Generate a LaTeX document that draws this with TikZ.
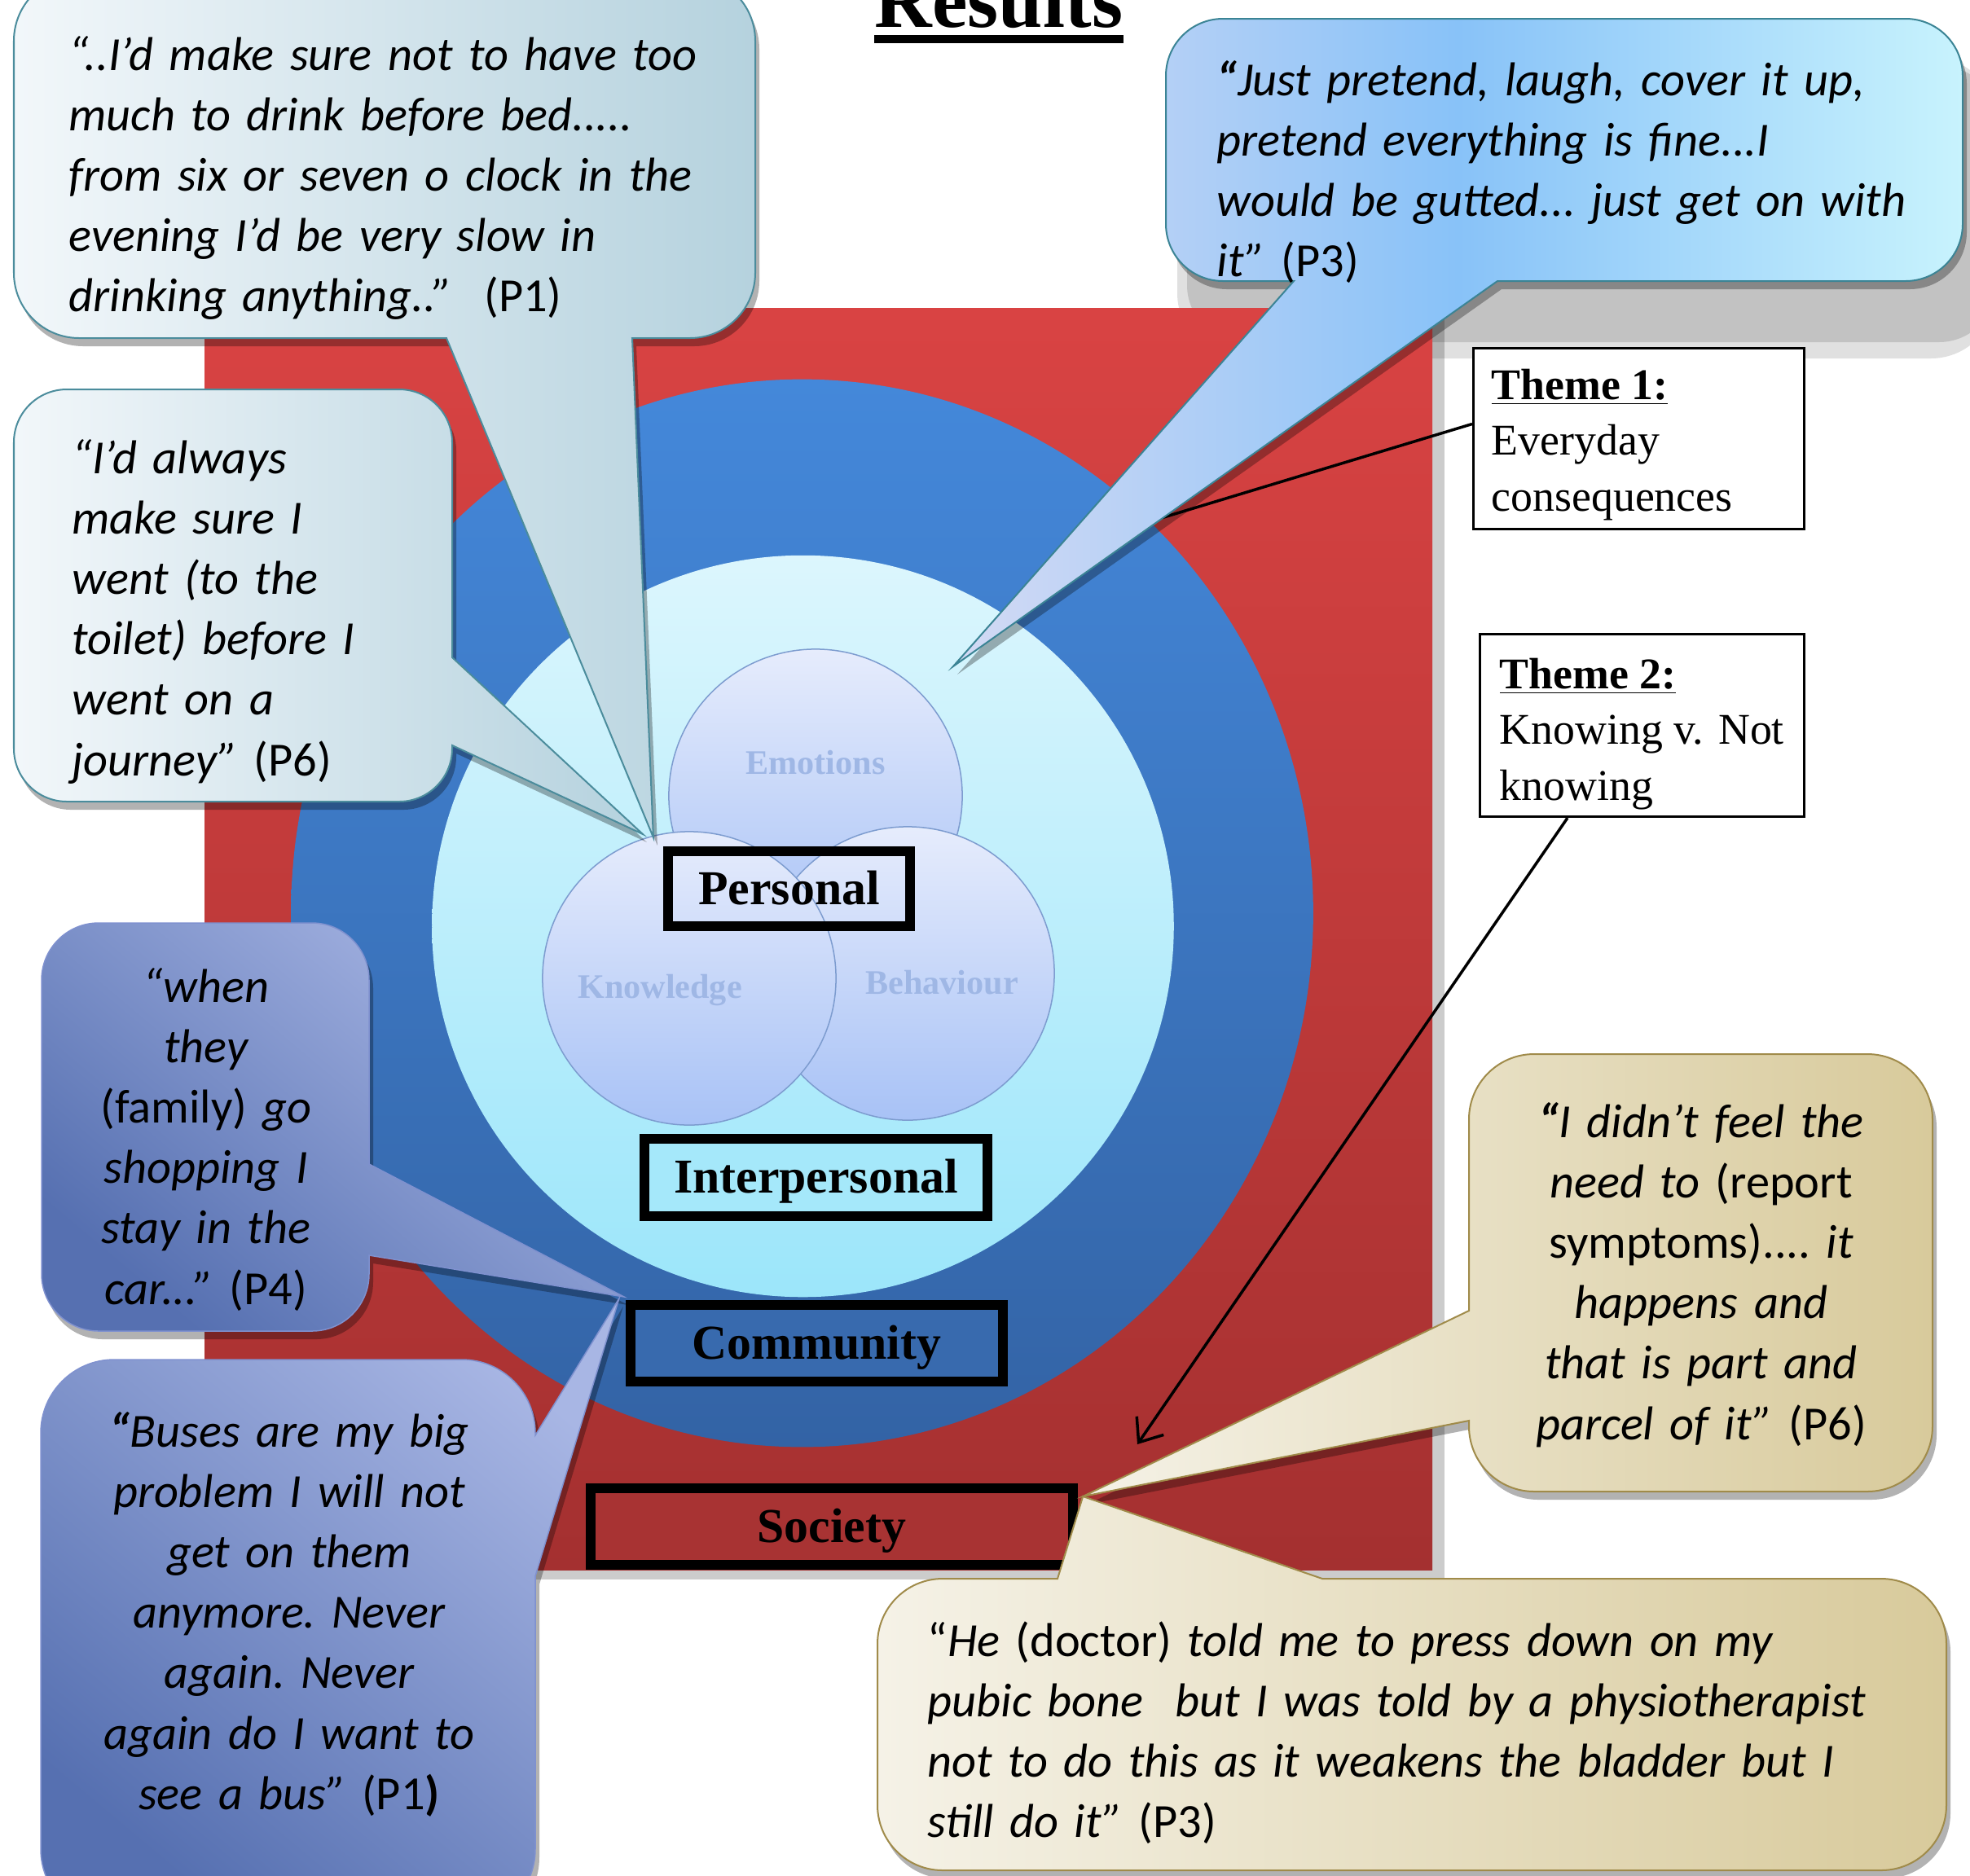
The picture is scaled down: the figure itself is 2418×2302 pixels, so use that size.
\documentclass[tikz,border=0pt]{standalone}
\usepackage{fontspec}
\setmainfont{Liberation Serif}
\newfontfamily\carlito{Carlito}
\usetikzlibrary{arrows.meta,shadows,calc}
\definecolor{redtop}{HTML}{D94343}
\definecolor{redbot}{HTML}{A43030}
\definecolor{bluetop}{HTML}{4488DA}
\definecolor{bluebot}{HTML}{3363A5}
\definecolor{cyantop}{HTML}{DCF6FD}
\definecolor{cyanbot}{HTML}{9CE6FA}
\definecolor{venntop}{HTML}{E6ECFC}
\definecolor{vennbot}{HTML}{A8C2F6}
\definecolor{vennedge}{HTML}{7D9CCF}
\definecolor{vlab}{HTML}{9FB7E5}
\definecolor{interfill}{HTML}{A5E8FA}
\definecolor{commfill}{HTML}{386AAE}
\definecolor{socfill}{HTML}{A83333}
\definecolor{lbL}{HTML}{F2F7FA}
\definecolor{lbR}{HTML}{B5D2DE}
\definecolor{lbEdge}{HTML}{4B8C9C}
\definecolor{skyL}{HTML}{D4DAF4}
\definecolor{skyM}{HTML}{88C2F8}
\definecolor{skyR}{HTML}{C8F3FD}
\definecolor{skyEdge}{HTML}{3B8495}
\definecolor{gemDark}{HTML}{5670B1}
\definecolor{gemLight}{HTML}{A8B6E4}
\definecolor{gemEdge}{HTML}{7F91CF}
\definecolor{tanL}{HTML}{F5F2E7}
\definecolor{tanR}{HTML}{D8CA9B}
\definecolor{tanEdge}{HTML}{A08B4A}
\tikzset{
  bshadow/.style={drop shadow={shadow xshift=0.05cm,shadow yshift=-0.10cm,opacity=0.3,fill=black}},
  qtext/.style={inner sep=0pt, font=\carlito\fontsize{16.6}{21.06}\selectfont\itshape\frenchspacing},
  lvlbox/.style={draw=black, line width=0.12cm, inner sep=0pt, text height=0.44cm, text depth=0.06cm, font=\bfseries\fontsize{17}{20}\selectfont},
  vlabel/.style={inner sep=0pt, font=\bfseries\fontsize{12}{14}\selectfont, text=vlab},
  venn/.style={circle, draw=vennedge, line width=0.015cm, top color=venntop, bottom color=vennbot, minimum size=3.6cm, inner sep=0pt},
  themebox/.style={draw=black, line width=0.03cm, fill=white, inner sep=0pt},
  themetext/.style={inner sep=0pt, anchor=north west, align=left, font=\fontsize{15.3}{19.6}\selectfont},
  conn/.style={draw=black, line width=0.035cm},
  bubblelight/.style={draw=lbEdge, line width=0.02cm, left color=lbL, right color=lbR, bshadow},
  bubblesky/.style={draw=skyEdge, line width=0.02cm, left color=skyL, right color=skyR, middle color=skyM, bshadow},
  bubblegem/.style={draw=gemEdge, line width=0.015cm, bottom color=gemDark, top color=gemLight, shading angle=-40, bshadow},
  bubbletan/.style={draw=tanEdge, line width=0.02cm, left color=tanL, right color=tanR, bshadow}
}
\begin{document}
\begin{tikzpicture}[x=0.01cm,y=-0.01cm]
\useasboundingbox (0,0) rectangle (2418,2302);
\clip (0,0) rectangle (2418,2302);

% shadow of the top-right callout
\fill[black!12, rounded corners=0.8cm] (1445,70) rectangle (2450,440);
\fill[black!24, rounded corners=0.7cm] (1457,80) rectangle (2450,420);

% society square
\path[top color=redtop, bottom color=redbot,
      drop shadow={shadow xshift=0.15cm,shadow yshift=-0.12cm,opacity=0.2,fill=black}]
  (251,378) rectangle (1758,1927);
% community ring
\path[top color=bluetop, bottom color=bluebot] (984.5,1121) ellipse [x radius=6.27cm, y radius=6.55cm];
% interpersonal disc
\path[top color=cyantop, bottom color=cyanbot] (985.5,1137) circle [radius=4.55cm];

% personal venn
\node[venn] (emo) at (1001,977) {};
\node[venn] (beh) at (1114,1195) {};
\node[venn] (kno) at (846,1201) {};
\node[vlabel] (emolab) at (1001,936) {Emotions};
\node[vlabel] (knolab) at (810,1215) {Knowledge};
\node[vlabel] (behlab) at (1156,1206) {Behaviour};

% level boxes
\node[lvlbox, minimum width=2.97cm, minimum height=0.92cm] (personal) at (968.5,1091) {Personal};
\node[lvlbox, fill=interfill, minimum width=4.21cm, minimum height=0.95cm] (inter) at (1001.5,1445.5) {Interpersonal};
\node[lvlbox, fill=commfill, minimum width=4.57cm, minimum height=0.94cm] (comm) at (1002.5,1649) {Community};
\node[lvlbox, fill=socfill, minimum width=5.92cm, minimum height=0.94cm] (soc) at (1021,1874) {Society};

% theme boxes
\node[themebox, minimum width=4.06cm, minimum height=2.22cm] (theme1) at (2011.5,538.5) {};
\node[themetext] (theme1txt) at (1830,452) {\underline{\textbf{Theme 1:}}\\Everyday\\consequences};
\node[themebox, minimum width=3.98cm, minimum height=2.24cm] (theme2) at (2015.5,890.5) {};
\node[themetext] (theme2txt) at (1840,807) {\underline{\textbf{Theme 2:}}\\Knowing v. Not\\knowing};

\coordinate (t1end) at (1425,636);
\coordinate (t2end) at (1396,1773);
\draw[conn] ([yshift=0.18cm]theme1.west) -- (t1end);
\draw[conn, -{Straight Barb[length=0.25cm,width=0.4cm]}] ([xshift=-0.915cm]theme2.south) -- (t2end);

% callout tips
\coordinate (tipA) at ($(personal.north west)+(-12,-11)$);
\coordinate (tipB) at ($(personal.north west)+(-25,-15)$);
\coordinate (p3tip) at (1170,818);
\coordinate (tipC) at ($(comm.north west)+(-2,-4)$);
\coordinate (tipD) at ($(comm.north west)+(-8,-2)$);
\coordinate (tipE) at ($(soc.north east)+(6,16)$);

% callouts
\path[bubblelight] (472,-30) [rounded corners=0.8cm] -- (927,-30) -- (927,415) [sharp corners] -- (776,415) -- (tipA) -- (548,415) [rounded corners=0.8cm] -- (17,415) -- (17,-30) -- cycle;
\path[bubblelight] (286,478) [rounded corners=0.65cm] -- (555,478) [sharp corners] -- (555,807) -- (tipB) -- (555,915) [rounded corners=0.65cm] -- (555,984) -- (17,984) -- (17,478) -- cycle;
\path[bubblesky] (1920,23) [rounded corners=0.7cm] -- (2409,23) -- (2409,345) [sharp corners] -- (1838,345) -- (p3tip) -- (1588,345) [rounded corners=0.7cm] -- (1431,345) -- (1431,23) -- cycle;
\path[bubblegem] (252,1133) [rounded corners=0.7cm] -- (453,1133) [sharp corners] -- (453,1429) -- (tipC) -- (453,1541) [rounded corners=0.7cm] -- (453,1634) -- (51,1634) -- (51,1133) -- cycle;
\path[bubblegem] (350,1669) [rounded corners=0.9cm] -- (657,1669) [sharp corners] -- (657,1762) -- (tipD) -- (657,1935) [rounded corners=0.9cm] -- (657,2360) -- (50,2360) -- (50,1669) -- cycle;
\path[bubbletan] (2088,1294) [rounded corners=0.8cm] -- (2372,1294) -- (2372,1831) -- (1803,1831) [sharp corners] -- (1803,1744) -- (tipE) -- (1803,1609) [rounded corners=0.8cm] -- (1803,1294) -- cycle;
\path[bubbletan] (1733,2296) [rounded corners=0.8cm] -- (1077,2296) -- (1077,1938) [sharp corners] -- (1298,1938) -- (tipE) -- (1623,1938) [rounded corners=0.8cm] -- (2389,1938) -- (2389,2296) -- cycle;

% callout texts
\node[qtext, anchor=north west, align=left, text width=8.7cm] (q1) at (84,44)
  {“..I’d make sure not to have too\\much to drink before bed.....\\from six or seven o clock in the\\evening I’d be very slow in\\drinking anything..”\ \ {\upshape(P1)}};
\node[qtext, anchor=north west, align=left, text width=4.6cm] (q2) at (88,539)
  {“I’d always\\make sure I\\went (to the\\toilet) before I\\went on a\\journey” {\upshape(P6)}};
\node[qtext, anchor=north west, align=left, text width=9.1cm] (q3) at (1493,74)
  {\textbf{“}Just pretend, laugh, cover it up,\\pretend everything is fine...I\\would be gutted... just get on with\\it” {\upshape(P3)}};
\node[qtext, anchor=north, align=center, text width=3.9cm] (q4) at (253,1188)
  {“when\\they\\{\upshape(family)} go\\shopping I\\stay in the\\car...” {\upshape(P4)}};
\node[qtext, anchor=north, align=center, text width=5.8cm] (q5) at (355,1733)
  {\textbf{“}Buses are my big\\problem I will not\\get on them\\anymore. Never\\again. Never\\again do I want to\\see a bus” {\upshape(P1\textbf{)}}};
\node[qtext, anchor=north, align=center, text width=5.4cm] (q6) at (2088,1353)
  {\textbf{“}I didn’t feel the\\need to {\upshape(report}\\{\upshape symptoms)....} it\\happens and\\that is part and\\parcel of it” {\upshape(P6)}};
\node[qtext, anchor=north west, align=left, text width=12.4cm] (q7) at (1138,1990)
  {{\upshape“}He {\upshape(doctor)} told me to press down on my\\pubic bone\ \ but I was told by a physiotherapist\\not to do this as it weakens the bladder but I\\still do it” {\upshape(P3)}};

% title
\node[anchor=base, inner sep=0pt, font=\bfseries\fontsize{27.8}{30}\selectfont] (title) at (1226,33) {Results};
\fill ([yshift=-0.10cm]title.base west) rectangle ([yshift=-0.20cm]title.base east);
\end{tikzpicture}
\end{document}
